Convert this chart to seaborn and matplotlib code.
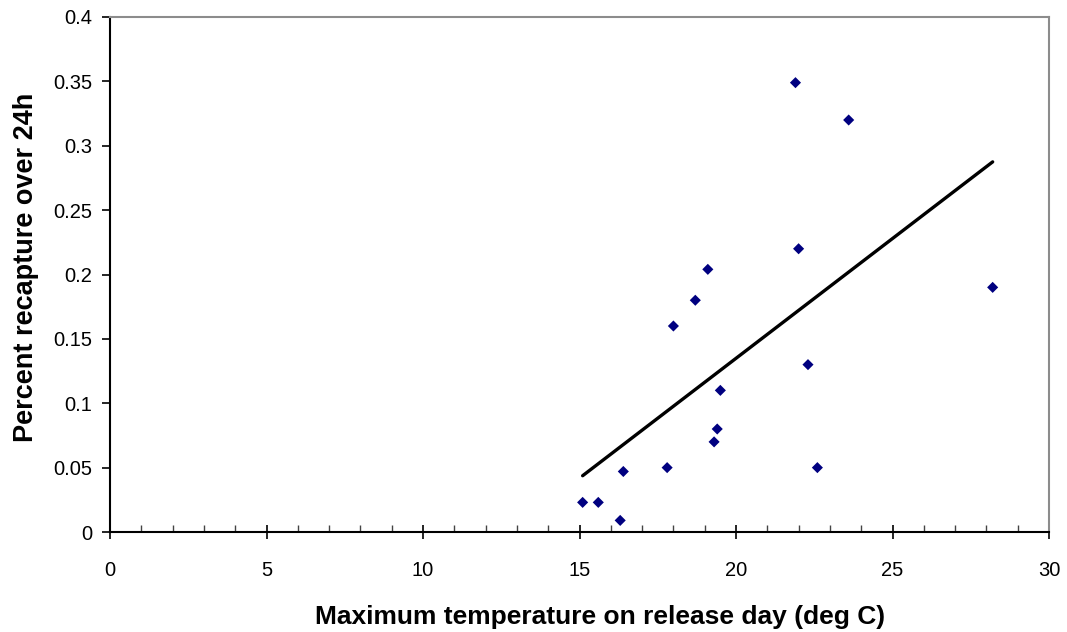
import numpy as np
import pandas as pd
import matplotlib
matplotlib.use("Agg")
import matplotlib.pyplot as plt
import seaborn as sns
from matplotlib.ticker import MultipleLocator

max_temp = [15.1, 15.6, 16.3, 16.4, 17.8, 18.0, 18.7, 19.1, 19.3, 19.4, 19.5,
            21.9, 22.0, 22.3, 22.6, 23.6, 28.2]
recapture = [0.023, 0.023, 0.009, 0.047, 0.050, 0.160, 0.180, 0.204, 0.070, 0.080, 0.110,
             0.349, 0.220, 0.130, 0.050, 0.320, 0.190]

df = pd.DataFrame({"temp": max_temp, "recap": recapture})

sns.set_theme(style="white")
plt.rcParams['font.family'] = ['Liberation Sans', 'DejaVu Sans']
plt.rcParams['text.color'] = 'black'
plt.rcParams['axes.labelcolor'] = 'black'
plt.rcParams['xtick.color'] = 'black'
plt.rcParams['ytick.color'] = 'black'

fig = plt.figure(figsize=(10.67, 6.32), dpi=100)
ax = fig.add_axes([110/1067, 1 - 532/632, (1049-110)/1067, (532-17)/632])

sns.regplot(data=df, x="temp", y="recap", ax=ax, ci=None, truncate=True,
            marker="D",
            scatter_kws=dict(s=32, color="#000080", alpha=1, edgecolors="none", zorder=3),
            line_kws=dict(color="black", lw=2.4, zorder=2))

ax.set_xlim(0, 30)
ax.set_ylim(0, 0.4)
ax.xaxis.set_major_locator(MultipleLocator(5))
ax.xaxis.set_minor_locator(MultipleLocator(1))
ax.yaxis.set_major_locator(MultipleLocator(0.05))
ax.yaxis.set_major_formatter(matplotlib.ticker.FuncFormatter(lambda v, p: ("%g" % round(v, 2))))

ax.tick_params(axis="x", which="major", direction="inout", length=10, width=1.2, colors="black",
               labelsize=14.5, pad=16, bottom=True)
ax.tick_params(axis="x", which="minor", direction="in", length=5, width=1, colors="#444444", bottom=True)
ax.tick_params(axis="y", which="major", direction="out", length=6, width=1.2, colors="black",
               labelsize=14.5, pad=7, left=True)

for s in ["left", "bottom"]:
    ax.spines[s].set_color("black")
    ax.spines[s].set_linewidth(1.5)
for s in ["top", "right"]:
    ax.spines[s].set_color("#8c8c8c")
    ax.spines[s].set_linewidth(1.5)

ax.set_xlabel("Maximum temperature on release day (deg C)", fontsize=19, fontweight="bold",
              labelpad=18, color="black")
ax.set_ylabel("Percent recapture over 24h", fontsize=19.5, fontweight="bold",
              labelpad=10, color="black")
ax.xaxis.label.set_x(0.522)
ax.yaxis.label.set_y(0.513)

fig.savefig("out.png", dpi=100, facecolor="white")
